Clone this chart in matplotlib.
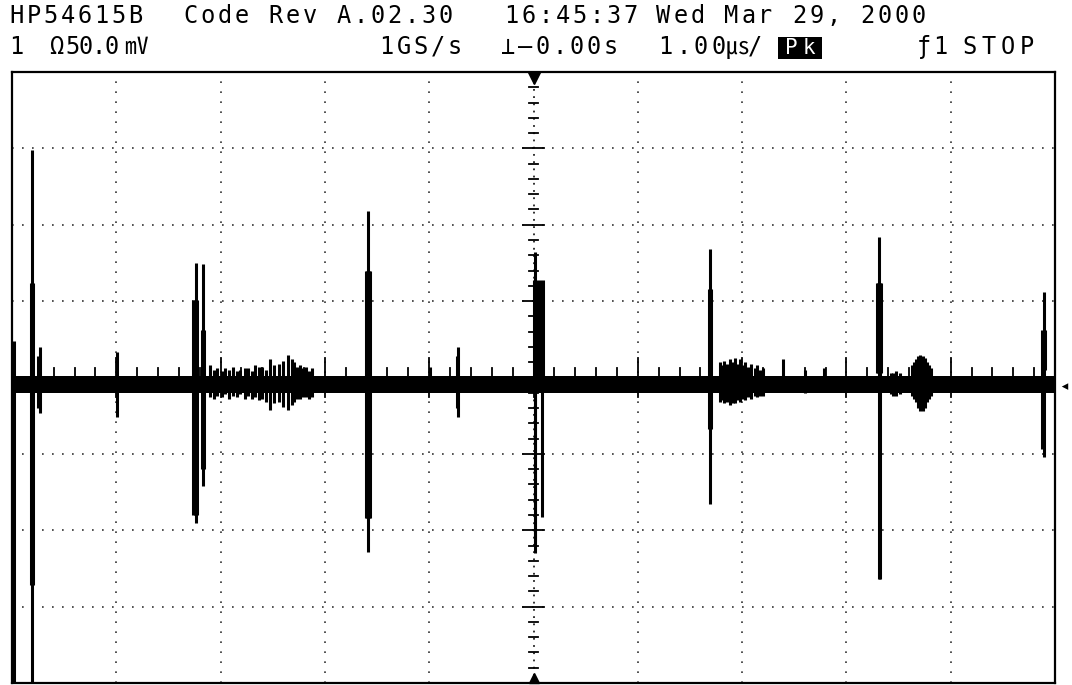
import matplotlib
matplotlib.use("Agg")
import matplotlib.pyplot as plt
from matplotlib.patches import Rectangle
import numpy as np

W, H = 1072, 685

# ---------------- data (time in us, 1 us/div; amplitude in mV, 50 mV/div) ----------------
x_range = [-5.0, 5.0]
y_range = [-200.0, 200.0]
grid_t = [-4, -3, -2, -1, 1, 2, 3, 4]
grid_v = [-150, -100, -50, 50, 100, 150]

# baseline trace band (peak-detect envelope of the quiet signal)
band_t = [-5.0, 5.0]
band_hi = [1.0, 1.0]
band_lo = [-10.0, -10.0]

# vertical excursions of the trace (peak-detect envelope segments)
spike_t = [
    -4.98,
    -4.81, -4.82, -4.80,
    -4.73, -4.75,
    -3.99,
    -3.24, -3.26, -3.25, -3.23,
    -3.17, -3.18, -3.16,
    -3.10, -3.06, -3.03, -2.99, -2.96, -2.92, -2.88, -2.84, -2.81, -2.77, -2.74, -2.70, -2.67,
    -2.63, -2.60, -2.56, -2.53, -2.49, -2.44, -2.40, -2.35, -2.32, -2.30, -2.27, -2.24, -2.21, -2.18, -2.15, -2.12,
    -1.59, -1.61, -1.60, -1.58, -1.57,
    -0.99,
    -0.72, -0.73,
    0.01, 0.005, 0.03, 0.06, 0.09, 0.08, 0.015,
    1.69, 1.68, 1.70,
    1.79, 1.81, 1.83, 1.86, 1.88, 1.91, 1.93, 1.96, 1.98, 2.01, 2.03, 2.06, 2.09, 2.12, 2.14, 2.17, 2.20,
    2.39, 2.60, 2.79,
    3.31, 3.29, 3.30, 3.32, 3.33,
    3.43, 3.45, 3.48, 3.51, 3.63, 3.65, 3.67, 3.69, 3.71, 3.73, 3.75, 3.77, 3.79, 3.81,
    4.89, 4.88, 4.90,
]
spike_hi = [
    24,
    149, 62, 62,
    20, 14,
    17,
    75, 51, 51, 51,
    74, 31, 31,
    8.5, 5, 6, 4, 6, 5, 7, 4, 5, 6, 6, 4, 8,
    7, 7, 5, 12, 8, 9, 11, 15, 12, 10, 7, 8.5, 6, 7, 4, 6,
    109, 70, 70, 70, 70,
    7,
    20, 14,
    82, 64, 64, 64, 64, 0, 0,
    84, 58, 58,
    10, 8, 11, 9, 12, 10, 13, 9, 12, 8, 10, 7, 9, 6, 8, 5, 6,
    12, 5, 6,
    92, 62, 62, 62, 62,
    3, 3, 4, 3, 8, 10, 12, 14, 15, 14, 13, 10, 8, 6,
    56, 31, 31,
]
spike_lo = [
    -200,
    -200, -136, -136,
    -23, -20,
    -26,
    -95, -90, -90, -90,
    -71, -60, -60,
    -13, -14, -12, -13, -11, -14, -12, -13, -11, -14, -12, -14, -13,
    -15, -14, -16, -21, -17, -16, -19, -21, -18, -16, -14, -14, -13, -13, -14, -13,
    -114, -92, -92, -92, -92,
    -9,
    -26, -20,
    -109, -1, -1, -1, -1, -91, -115,
    -83, -34, -34,
    -16, -15, -17, -16, -18, -17, -17, -15, -16, -14, -15, -13, -14, -12, -13, -12, -12,
    -9, -10, -9,
    -132, 3, 3, -132, 3,
    -11, -12, -12, -11, -12, -14, -16, -20, -22, -22, -20, -16, -14, -12,
    -52, -47, 5,
]

# header texts
header_line1 = [("HP54615B", 8), ("Code Rev A.02.30", 182), ("16:45:37", 503), ("Wed Mar 29, 2000", 655)]
header_line2 = [("1", 8, 17), ("Ω", 48, 17), ("50.0", 66, 13), ("㎷", 127, 17), ("1GS/s", 378, 17),
                ("⊥—0.00s", 500, 17), ("1.00㎲/", 656, 18), ("ƒ1", 915, 17), ("STOP", 960, 19)]
peak_label = "Pk"

# ---------------- figure ----------------
fig = plt.figure(figsize=(W / 100, H / 100), dpi=100, facecolor="white")
left, right, top, bottom = 12, 1055, 72, 683
ax = fig.add_axes([left / W, 1 - bottom / H, (right - left) / W, (bottom - top) / H])
ax.set_xlim(*x_range)
ax.set_ylim(*y_range)
ax.set_xticks([])
ax.set_yticks([])
for s in ax.spines.values():
    s.set_linewidth(1.6)
    s.set_color("black")

# graticule
for t in grid_t:
    ax.axvline(t, color="#333333", lw=1.2, ls=(0, (1, 5)), zorder=1)
for v in grid_v:
    ax.axhline(v, color="#333333", lw=1.2, ls=(0, (1, 5)), zorder=1)
ax.axvline(0, color="#222222", lw=1.3, ls=(0, (1, 3)), zorder=1)
ax.axhline(0, color="#222222", lw=1.3, ls=(0, (1, 3)), zorder=1)
# centre axis ticks
minor_v = np.arange(-190, 200, 10)
for v in minor_v:
    half = 0.10 if v % 50 == 0 else 0.045
    ax.plot([-half, half], [v, v], color="black", lw=1.3, zorder=2)
minor_t = np.arange(-4.8, 5.0, 0.2)
for t in minor_t:
    half = 13 if abs(t - round(t)) < 1e-6 else 6
    ax.plot([t, t], [-half, half], color="black", lw=1.3, zorder=2)
# trigger position markers
ax.plot([0], [y_range[1] - 4], marker="v", color="black", ms=9, clip_on=False, zorder=5)
ax.plot([0], [y_range[0] + 3], marker="^", color="black", ms=7, clip_on=False, zorder=5)

# trace
ax.fill_between(band_t, band_lo, band_hi, color="black", lw=0, zorder=3)
ax.vlines(spike_t, spike_lo, spike_hi, color="black", lw=2.2, zorder=4)

# header text (dot-matrix-like monospace)
mono = ["DejaVu Sans Mono", "Noto Sans CJK SC"]


def write(token, x0, yc, pitch=17, size=17, color="black"):
    for i, ch in enumerate(token):
        fig.text((x0 + i * pitch + pitch / 2) / W, 1 - yc / H, ch, family=mono, fontsize=size,
                 ha="center", va="center", color=color)


for tok, x0 in header_line1:
    write(tok, x0, 16)
for tok, x0, p in header_line2:
    write(tok, x0, 47, pitch=p)
fig.patches.append(Rectangle((778 / W, 1 - 59 / H), 44 / W, 22 / H, transform=fig.transFigure,
                             facecolor="black", edgecolor="none"))
write(peak_label, 783, 48, pitch=17, size=15, color="white")
# ground reference marker at right edge
fig.text(1064 / W, 1 - 386 / H, "◂", family=mono, fontsize=12, ha="center", va="center")

fig.savefig("out.png", dpi=100, facecolor="white")
